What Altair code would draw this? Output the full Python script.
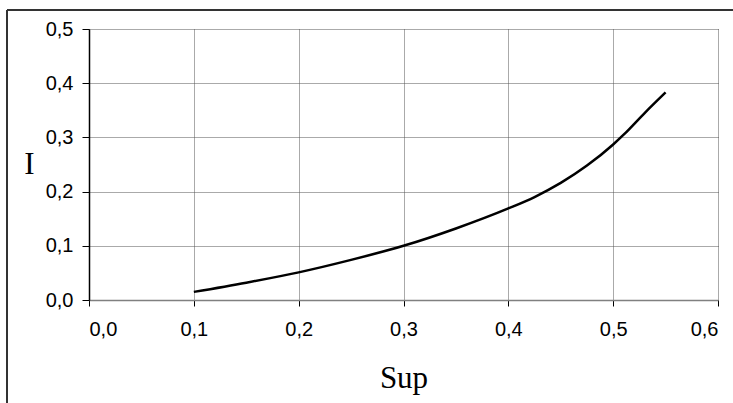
import altair as alt
import pandas as pd

sup = [0.10, 0.15, 0.20, 0.25, 0.30, 0.35, 0.40, 0.425, 0.45, 0.475, 0.50, 0.51, 0.53, 0.55]
inten = [0.015, 0.032, 0.051, 0.074, 0.100, 0.132, 0.169, 0.190, 0.216, 0.248, 0.287, 0.305, 0.345, 0.383]
x_ticks = [0.0, 0.1, 0.2, 0.3, 0.4, 0.5, 0.6]
y_ticks = [0.0, 0.1, 0.2, 0.3, 0.4, 0.5]

df = pd.DataFrame({"Sup": sup, "I": inten})

W, H = 629, 271
LEFT, TOP = 89, 29

label_expr = "replace(format(datum.value, '.1f'), '.', ',')"

line = alt.Chart(df).mark_line(color="black", strokeWidth=2.5, interpolate="monotone").encode(
    x=alt.X("Sup:Q",
            scale=alt.Scale(domain=[0, 0.6], nice=False, zero=False),
            axis=alt.Axis(values=x_ticks, labelExpr=label_expr, title="Sup",
                          grid=True, gridColor="#555", gridDash=[1, 1], gridWidth=1,
                          domainColor="#808080", domainWidth=1.5,
                          tickColor="#000", tickSize=6, tickWidth=1,
                          labelFont="Liberation Sans", labelFontSize=20, labelColor="#000",
                          labelPadding=13,
                          titleFont="Liberation Serif", titleFontSize=31, titleFontWeight="normal",
                          titleColor="#000", titleBaseline="alphabetic", titleY=87)),
    y=alt.Y("I:Q",
            scale=alt.Scale(domain=[0, 0.5], nice=False, zero=False),
            axis=alt.Axis(values=y_ticks, labelExpr=label_expr, title="I",
                          grid=True, gridColor="#555", gridDash=[1, 1], gridWidth=1,
                          domainColor="#000", domainWidth=1.5,
                          tickColor="#000", tickSize=7, tickWidth=1,
                          labelFont="Liberation Sans", labelFontSize=20, labelColor="#000",
                          labelPadding=9,
                          titleFont="Liberation Serif", titleFontSize=31, titleFontWeight="normal",
                          titleColor="#000", titleAngle=0, titleAlign="center",
                          titleBaseline="middle", titleX=-60, titleY=H / 2)),
)

frame_top = alt.Chart(df).mark_rule(color="#333", strokeWidth=2).encode(
    x=alt.value(7 - LEFT), x2=alt.value(733 - LEFT + 5), y=alt.value(10 - TOP)
)
frame_left = alt.Chart(df).mark_rule(color="#333", strokeWidth=2).encode(
    x=alt.value(7 - LEFT), y=alt.value(10 - TOP), y2=alt.value(403 - TOP + 5)
)

chart = alt.layer(line, frame_top, frame_left).properties(
    width=W, height=H,
    autosize=alt.AutoSizeParams(type="none"),
    padding={"left": LEFT, "top": TOP, "right": 733 - LEFT - W, "bottom": 403 - TOP - H},
    background="white",
).configure_view(stroke=None)

chart.save("out.html", embed_options={"renderer": "svg", "actions": False})
